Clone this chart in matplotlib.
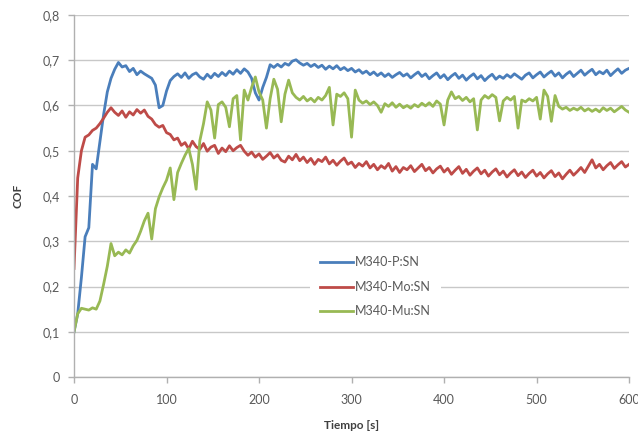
import numpy as np
import matplotlib
matplotlib.use("Agg")
import matplotlib.pyplot as plt

# ---------------- data ----------------
step_s = 4  # sampling interval (s)

blue_p = [
    0.10, 0.14, 0.22, 0.31, 0.33, 0.47, 0.46, 0.52, 0.58, 0.63,
    0.66, 0.68, 0.695, 0.685, 0.688, 0.675, 0.682, 0.668, 0.676, 0.670,
    0.665, 0.660, 0.645, 0.595, 0.600, 0.632, 0.655, 0.664, 0.670, 0.662,
    0.672, 0.660, 0.668, 0.672, 0.663, 0.658, 0.669, 0.661, 0.671, 0.664,
    0.673, 0.666, 0.676, 0.669, 0.679, 0.671, 0.681, 0.674, 0.660, 0.628,
    0.612, 0.640, 0.662, 0.690, 0.684, 0.691, 0.685, 0.693, 0.689, 0.698,
    0.701, 0.694, 0.689, 0.693, 0.686, 0.691, 0.684, 0.689, 0.680, 0.687,
    0.681, 0.688, 0.679, 0.684, 0.677, 0.682, 0.674, 0.679, 0.671, 0.676,
    0.668, 0.674, 0.666, 0.672, 0.664, 0.670, 0.662, 0.668, 0.673, 0.665,
    0.670, 0.661, 0.668, 0.674, 0.664, 0.670, 0.659, 0.666, 0.672, 0.661,
    0.668, 0.657, 0.665, 0.671, 0.660, 0.667, 0.656, 0.664, 0.670, 0.659,
    0.666, 0.655, 0.663, 0.669, 0.658, 0.665, 0.660, 0.668, 0.662, 0.670,
    0.664, 0.658, 0.667, 0.672, 0.661, 0.668, 0.674, 0.663, 0.670, 0.676,
    0.665, 0.672, 0.661, 0.669, 0.675, 0.664, 0.671, 0.678, 0.667, 0.674,
    0.680, 0.668, 0.675, 0.670, 0.678, 0.666, 0.674, 0.681, 0.671, 0.678,
    0.682,
]

red_mo = [
    0.24, 0.44, 0.50, 0.53, 0.535, 0.545, 0.55, 0.56, 0.572, 0.585,
    0.595, 0.585, 0.578, 0.588, 0.574, 0.586, 0.579, 0.591, 0.583, 0.590,
    0.576, 0.570, 0.558, 0.552, 0.556, 0.540, 0.536, 0.524, 0.528, 0.512,
    0.518, 0.504, 0.521, 0.509, 0.503, 0.516, 0.499, 0.508, 0.512, 0.494,
    0.506, 0.498, 0.511, 0.500, 0.507, 0.512, 0.499, 0.490, 0.497, 0.486,
    0.493, 0.481, 0.488, 0.496, 0.484, 0.491, 0.479, 0.475, 0.488, 0.480,
    0.492, 0.478, 0.486, 0.474, 0.483, 0.470, 0.481, 0.476, 0.486, 0.471,
    0.479, 0.468, 0.477, 0.484, 0.470, 0.475, 0.463, 0.472, 0.466, 0.476,
    0.462, 0.470, 0.458, 0.467, 0.461, 0.472, 0.455, 0.465, 0.452, 0.463,
    0.458, 0.467, 0.454, 0.462, 0.470, 0.456, 0.463, 0.451, 0.460, 0.466,
    0.453, 0.461, 0.448, 0.457, 0.465, 0.450, 0.459, 0.446, 0.455, 0.462,
    0.449, 0.457, 0.444, 0.453, 0.460, 0.447, 0.455, 0.442, 0.451, 0.458,
    0.445, 0.453, 0.441, 0.450, 0.457, 0.444, 0.452, 0.440, 0.449, 0.456,
    0.443, 0.451, 0.438, 0.448, 0.457, 0.446, 0.454, 0.463, 0.452, 0.466,
    0.480, 0.462, 0.470, 0.458, 0.467, 0.474, 0.461, 0.469, 0.476, 0.464,
    0.470,
]

green_mu = [
    0.10, 0.14, 0.152, 0.150, 0.148, 0.153, 0.150, 0.168, 0.205, 0.245,
    0.295, 0.268, 0.276, 0.270, 0.281, 0.274, 0.290, 0.302, 0.322, 0.345,
    0.362, 0.305, 0.372, 0.398, 0.418, 0.435, 0.462, 0.392, 0.452, 0.472,
    0.490, 0.505, 0.470, 0.415, 0.522, 0.560, 0.608, 0.590, 0.528, 0.602,
    0.608, 0.596, 0.553, 0.615, 0.622, 0.524, 0.634, 0.612, 0.640, 0.663,
    0.630, 0.612, 0.550, 0.615, 0.658, 0.636, 0.564, 0.625, 0.656, 0.628,
    0.618, 0.612, 0.620, 0.610, 0.616, 0.608, 0.618, 0.612, 0.622, 0.640,
    0.557, 0.625, 0.620, 0.628, 0.615, 0.530, 0.634, 0.612, 0.605, 0.610,
    0.602, 0.608, 0.600, 0.585, 0.604, 0.598, 0.606, 0.596, 0.603, 0.595,
    0.600, 0.594, 0.602, 0.597, 0.605, 0.599, 0.606, 0.598, 0.610, 0.603,
    0.557, 0.612, 0.630, 0.615, 0.620, 0.611, 0.618, 0.608, 0.615, 0.546,
    0.612, 0.622, 0.616, 0.624, 0.618, 0.566, 0.610, 0.618, 0.612, 0.620,
    0.550, 0.612, 0.608, 0.615, 0.610, 0.618, 0.570, 0.634, 0.620, 0.565,
    0.622, 0.598, 0.592, 0.596, 0.589, 0.594, 0.590, 0.596, 0.588, 0.593,
    0.587, 0.592, 0.586, 0.595, 0.589, 0.594, 0.586, 0.592, 0.598, 0.590,
    0.585,
]

series_names = ["M340-P:SN", "M340-Mo:SN", "M340-Mu:SN"]
series_colors = ["#4A7EBB", "#BE4B48", "#98B954"]

x_ticks = [0, 100, 200, 300, 400, 500, 600]
x_ticklabels = ["0", "100", "200", "300", "400", "500", "600"]
y_ticks = [0, 0.1, 0.2, 0.3, 0.4, 0.5, 0.6, 0.7, 0.8]
y_ticklabels = ["0", "0,1", "0,2", "0,3", "0,4", "0,5", "0,6", "0,7", "0,8"]
x_label = "Tiempo [s]"
y_label = "COF"

# ---------------- plot ----------------
plt.rcParams["font.family"] = ["Lato", "DejaVu Sans"]

fig = plt.figure(figsize=(6.38, 4.40), dpi=100)
ax = fig.add_axes([0.116, 0.143, 0.870, 0.823])

for vals, name, col in zip([blue_p, red_mo, green_mu], series_names, series_colors):
    t = np.arange(len(vals)) * step_s
    ax.plot(t, vals, color=col, lw=2.0, label=name, solid_joinstyle="round")

ax.set_xlim(0, 600)
ax.set_ylim(0, 0.8)
ax.set_xticks(x_ticks)
ax.set_xticklabels(x_ticklabels)
ax.set_yticks(y_ticks)
ax.set_yticklabels(y_ticklabels)

ax.grid(axis="y", color="#C8C8C8", lw=1.0)
ax.set_axisbelow(True)
for s in ["top", "right"]:
    ax.spines[s].set_visible(False)
for s in ["left", "bottom"]:
    ax.spines[s].set_color("#B0B0B0")
    ax.spines[s].set_linewidth(1.0)

ax.tick_params(axis="both", colors="#B0B0B0", labelcolor="#595959",
               labelsize=9, length=4, width=1, direction="out")
ax.tick_params(axis="x", pad=8)
ax.tick_params(axis="y", pad=6)

ax.set_xlabel(x_label, fontsize=8.5, fontweight="bold", color="#404040", labelpad=10)
ax.set_ylabel(y_label, fontsize=8.5, fontweight="bold", color="#404040", labelpad=14)

leg = ax.legend(loc="center", bbox_to_anchor=(0.589, 0.348),
                bbox_transform=fig.transFigure, frameon=True, fontsize=9,
                handlelength=2.6, handletextpad=0.2, labelspacing=1.0,
                borderpad=0.8)
leg.get_frame().set_facecolor("white")
leg.get_frame().set_edgecolor("none")
leg.get_frame().set_alpha(1.0)
for txt in leg.get_texts():
    txt.set_color("#595959")

fig.savefig("out.png", dpi=100)
